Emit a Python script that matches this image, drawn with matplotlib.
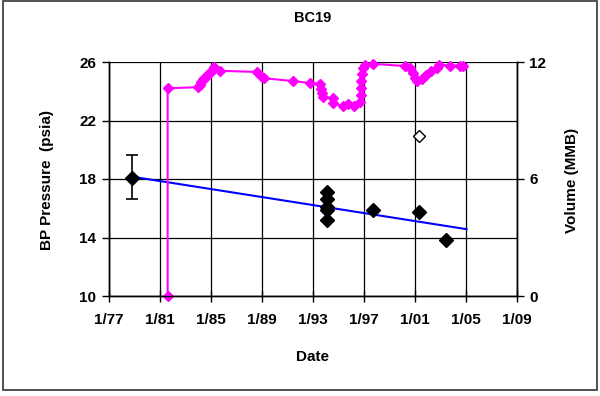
import matplotlib
matplotlib.use("Agg")
import matplotlib.pyplot as plt
from matplotlib.patches import Rectangle

plt.rcParams['font.family'] = ['Liberation Sans', 'DejaVu Sans']

# pressure measurements (decimal year, psia)
press_year = [1978.83, 1994.12, 1994.12, 1994.12, 1994.12, 1994.12, 1997.70, 2001.30, 2003.40]
press_psia = [18.05, 17.13, 16.61, 16.06, 15.87, 15.19, 15.89, 15.76, 13.82]
err_year = [1978.83]
err_psia = [18.05]
err_lo = [16.60]
err_hi = [19.64]
# suspect point, shown hollow
open_year = [2001.30]
open_psia = [20.97]

# linear pressure trend
trend_year = [1979.17, 2005.04]
trend_psia = [18.11, 14.57]

# cumulative volume (decimal year, MMB)
vol_year = [1981.60, 1981.60, 1983.96, 1984.10, 1984.25, 1984.41, 1984.57, 1984.73,
            1984.96, 1985.13, 1985.20, 1985.71, 1988.58, 1988.96, 1989.16, 1991.47,
            1992.74, 1993.51, 1993.59, 1993.67, 1993.78, 1994.53, 1994.57, 1995.38,
            1995.78, 1996.22, 1996.69, 1996.73, 1996.76, 1996.80, 1996.84, 1996.92,
            1997.08, 1997.67, 2000.25, 2000.61, 2000.88, 2001.00, 2001.12, 2001.51,
            2001.90, 2002.29, 2002.69, 2002.88, 2003.75, 2004.53, 2004.80]
vol_mmb = [0.00, 10.65, 10.71, 10.81, 10.96, 11.11, 11.24, 11.37,
           11.42, 11.65, 11.72, 11.55, 11.49, 11.29, 11.17, 11.02,
           10.92, 10.86, 10.63, 10.40, 10.22, 10.14, 9.88, 9.74,
           9.83, 9.74, 9.93, 10.32, 10.68, 11.04, 11.40, 11.71,
           11.86, 11.91, 11.79, 11.69, 11.45, 11.17, 11.04, 11.11,
           11.35, 11.52, 11.69, 11.86, 11.82, 11.82, 11.82]

x_ticks = [1977, 1981, 1985, 1989, 1993, 1997, 2001, 2005, 2009]
x_labels = ['1/77', '1/81', '1/85', '1/89', '1/93', '1/97', '1/01', '1/05', '1/09']
p_ticks = [10, 14, 18, 22, 26]
v_ticks = [0, 6, 12]

W, H = 600, 396
fig = plt.figure(figsize=(W / 100, H / 100), dpi=100)
ax = fig.add_axes([109 / W, 1 - 296 / H, 408 / W, 234 / H])
ax2 = ax.twinx()

# frame around the whole chart
fig.patches.append(Rectangle((3 / W, 1 - 390 / H), 594 / W, 389 / H, transform=fig.transFigure,
                             fill=False, edgecolor='#333333', linewidth=1.2))

ax.set_xlim(1977, 2009)
ax.set_ylim(10, 26)
ax2.set_ylim(0, 12)

for xv in x_ticks:
    ax.axvline(xv, color='black', linewidth=0.9, zorder=0)
for yv in p_ticks:
    ax.axhline(yv, color='black', linewidth=0.9, zorder=0)

ax.plot(trend_year, trend_psia, color='#0000FF', linewidth=1.5, zorder=2)
ax.errorbar(err_year, err_psia, yerr=[[err_psia[0] - err_lo[0]], [err_hi[0] - err_psia[0]]],
            fmt='none', ecolor='black', elinewidth=1.2, capsize=4.5, capthick=1.2, zorder=3)
ax.plot(press_year, press_psia, linestyle='none', marker='D', markersize=7.5,
        color='black', zorder=4)
ax.plot(open_year, open_psia, linestyle='none', marker='D', markersize=6,
        markerfacecolor='white', markeredgecolor='black', markeredgewidth=1.0, zorder=4)

ax2.plot(vol_year, vol_mmb, color='#FF00FF', linewidth=1.5, marker='D', markersize=5,
         clip_on=False)

ax.set_xticks(x_ticks)
ax.set_xticklabels(x_labels)
ax.set_yticks(p_ticks)
ax2.set_yticks(v_ticks)

for lab in ax.get_xticklabels() + ax.get_yticklabels() + ax2.get_yticklabels():
    lab.set_fontsize(11)
    lab.set_fontweight('bold')

ax.tick_params(axis='x', direction='inout', length=8, width=1, pad=8)
ax.tick_params(axis='y', direction='out', length=5, width=1, pad=4)
ax2.tick_params(axis='y', direction='out', length=5, width=1, pad=4)

# titles placed in figure pixels
cx = (109 + 517) / 2 / W
fig.text(cx, 1 - 18 / H, 'BC19', ha='center', va='center', fontsize=10.5, fontweight='bold')
fig.text(cx, 1 - 357 / H, 'Date', ha='center', va='center', fontsize=11, fontweight='bold')
fig.text(47 / W, 1 - 180 / H, 'BP Pressure  (psia)', ha='center', va='center',
         rotation=90, fontsize=11, fontweight='bold')
fig.text(572 / W, 1 - 180 / H, 'Volume (MMB)', ha='center', va='center',
         rotation=90, fontsize=11, fontweight='bold')

for a in (ax, ax2):
    a.spines['top'].set_visible(False)
    for s in ('left', 'right', 'bottom'):
        a.spines[s].set_linewidth(1.0)

fig.savefig('out.png', dpi=100)
